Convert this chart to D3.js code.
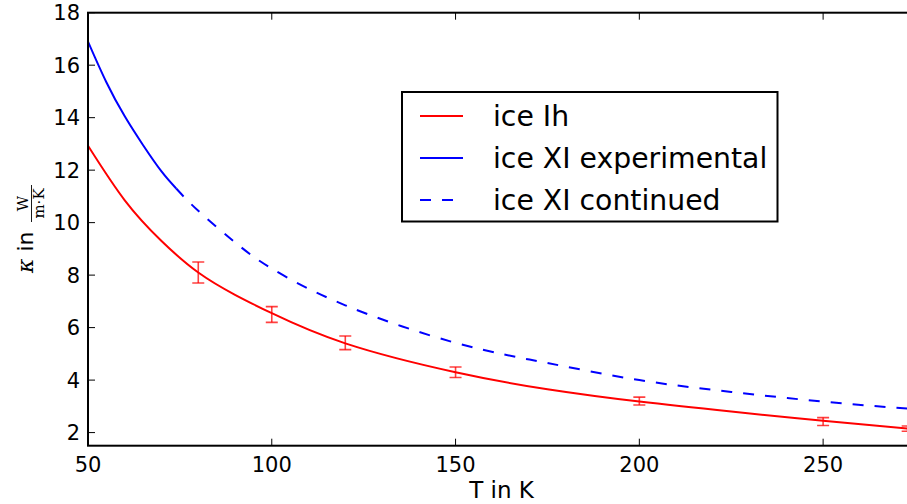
<!DOCTYPE html>
<html><head><meta charset="utf-8">
<script src="https://cdn.jsdelivr.net/npm/d3@7/dist/d3.min.js"></script>
<style>body{margin:0;background:#fff}svg{display:block}</style>
</head><body>
<script>
// Data
const temps_ih = [50, 60, 70, 80, 90, 100, 120, 150, 175, 200, 225, 250, 275];
const kappa_ih = [12.93, 10.85, 9.3, 8.1, 7.25, 6.55, 5.4, 4.3, 3.65, 3.18, 2.8, 2.45, 2.13];
const temps_xi_exp = [50, 55, 60, 65, 70, 74];
const kappa_xi_exp = [16.9, 15.35, 14.05, 12.95, 11.95, 11.3];
const temps_xi_cont = [74, 80, 90, 100, 120, 150, 175, 200, 225, 250, 275];
const kappa_xi_cont = [11.3, 10.45, 9.25, 8.25, 6.85, 5.42, 4.65, 4.0, 3.55, 3.18, 2.89];
const err_T = [80, 100, 120, 150, 200, 250, 273];
const err_k = [8.1, 6.5, 5.42, 4.3, 3.2, 2.42, 2.15];
const err_d = [0.4, 0.3, 0.26, 0.2, 0.15, 0.15, 0.1];
const xTicks = [50, 100, 150, 200, 250];
const yTicks = [2, 4, 6, 8, 10, 12, 14, 16, 18];
const legendLabels = ["ice Ih", "ice XI experimental", "ice XI continued"];

const W = 907, H = 504;
const L = 88, R = 915, T = 12.7, B = 445.7;
const svg = d3.select("body").append("svg").attr("width", W).attr("height", H);
const x = d3.scaleLinear().domain([50, 275]).range([L, R]);
const y = d3.scaleLinear().domain([1.5, 18]).range([B, T]);

svg.append("clipPath").attr("id", "clip").append("rect")
  .attr("x", L).attr("y", T).attr("width", R - L).attr("height", B - T);
const plot = svg.append("g").attr("clip-path", "url(#clip)");

const line = d3.line().x(d => x(d[0])).y(d => y(d[1])).curve(d3.curveNatural);
function pts(ts, ks) { return ts.map((t, i) => [t, ks[i]]); }

plot.append("path").datum(pts(temps_xi_cont, kappa_xi_cont)).attr("d", line)
  .attr("fill", "none").attr("stroke", "#0000ff").attr("stroke-width", 2).attr("stroke-dasharray", "11,11");
plot.append("path").datum(pts(temps_xi_exp, kappa_xi_exp)).attr("d", line)
  .attr("fill", "none").attr("stroke", "#0000ff").attr("stroke-width", 2);
plot.append("path").datum(pts(temps_ih, kappa_ih)).attr("d", line)
  .attr("fill", "none").attr("stroke", "#ff0000").attr("stroke-width", 2);

// error bars
const eb = plot.append("g").attr("stroke", "#ff0000").attr("stroke-opacity", 0.75).attr("stroke-width", 1.6);
err_T.forEach((t, i) => {
  const cx = x(t), y1 = y(err_k[i] + err_d[i]), y2 = y(err_k[i] - err_d[i]);
  eb.append("line").attr("x1", cx).attr("x2", cx).attr("y1", y1).attr("y2", y2);
  eb.append("line").attr("x1", cx - 6).attr("x2", cx + 6).attr("y1", y1).attr("y2", y1);
  eb.append("line").attr("x1", cx - 6).attr("x2", cx + 6).attr("y1", y2).attr("y2", y2);
});

// frame
svg.append("rect").attr("x", L).attr("y", T).attr("width", R - L).attr("height", B - T)
  .attr("fill", "none").attr("stroke", "#000").attr("stroke-width", 2);

const font = "DejaVu Sans, sans-serif";
// ticks
const tk = svg.append("g").attr("stroke", "#000").attr("stroke-width", 1);
xTicks.forEach(t => {
  tk.append("line").attr("x1", x(t)).attr("x2", x(t)).attr("y1", B).attr("y2", B - 7);
  tk.append("line").attr("x1", x(t)).attr("x2", x(t)).attr("y1", T).attr("y2", T + 7);
  svg.append("text").attr("x", x(t)).attr("y", B + 26).attr("text-anchor", "middle")
    .attr("font-family", font).attr("font-size", 21).text(t);
});
yTicks.forEach(t => {
  tk.append("line").attr("x1", L).attr("x2", L + 7).attr("y1", y(t)).attr("y2", y(t));
  svg.append("text").attr("x", L - 8).attr("y", y(t) + 7.5).attr("text-anchor", "end")
    .attr("font-family", font).attr("font-size", 21).text(t);
});

// axis labels
svg.append("text").attr("x", (L + R) / 2).attr("y", 498).attr("text-anchor", "middle")
  .attr("font-family", font).attr("font-size", 23).text("T in K");

const yl = svg.append("g").attr("transform", "translate(33,229) rotate(-90)");
const t1 = yl.append("text").attr("x", -44).attr("y", 0).attr("font-size", 22);
t1.append("tspan").attr("font-family", "DejaVu Serif, serif").attr("font-style", "italic").text("κ");
t1.append("tspan").attr("font-family", font).text(" in");
yl.append("text").attr("x", 25.5).attr("y", -5).attr("text-anchor", "middle")
  .attr("font-family", "DejaVu Serif, serif").attr("font-size", 15).text("W");
yl.append("text").attr("x", 25.5).attr("y", 11).attr("text-anchor", "middle")
  .attr("font-family", "DejaVu Serif, serif").attr("font-size", 15).text("m·K");
yl.append("line").attr("x1", 7).attr("x2", 44).attr("y1", -1.5).attr("y2", -1.5)
  .attr("stroke", "#000").attr("stroke-width", 0.9);

// legend
const lg = svg.append("g");
lg.append("rect").attr("x", 402).attr("y", 92).attr("width", 375.5).attr("height", 129.5)
  .attr("fill", "#fff").attr("stroke", "#000").attr("stroke-width", 2);
const styles = [{c: "#ff0000", d: null}, {c: "#0000ff", d: null}, {c: "#0000ff", d: "11,11"}];
legendLabels.forEach((lab, i) => {
  const ly = 116 + i * 42;
  const l = lg.append("line").attr("x1", 420).attr("x2", 463).attr("y1", ly).attr("y2", ly)
    .attr("stroke", styles[i].c).attr("stroke-width", 2);
  if (styles[i].d) l.attr("stroke-dasharray", styles[i].d);
  lg.append("text").attr("x", 493).attr("y", ly + 10).attr("font-family", font)
    .attr("font-size", 28.3).text(lab);
});
</script>
</body></html>
